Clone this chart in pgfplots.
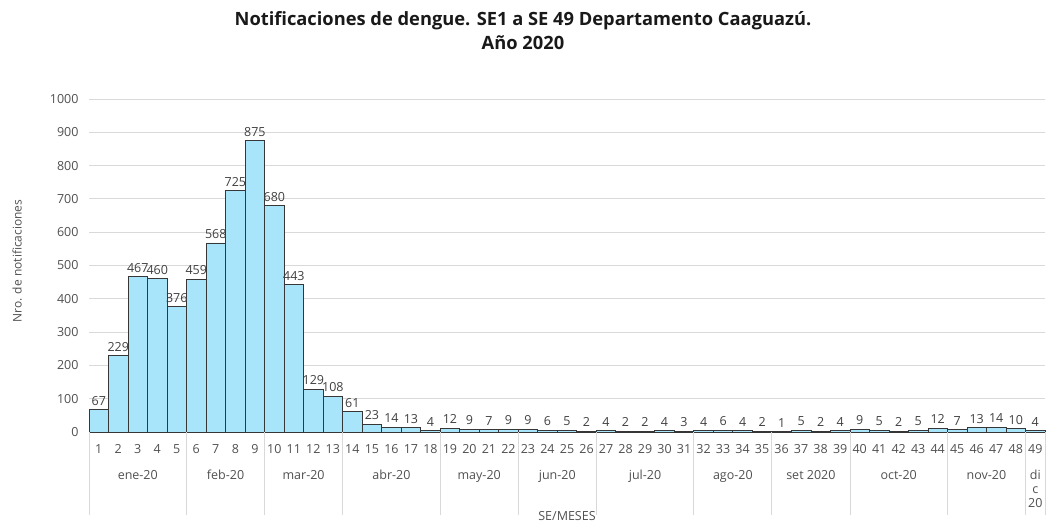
\documentclass[border=0pt]{standalone}
\usepackage{fontspec}
\setmainfont{Open Sans}
\usepackage{pgfplots}
\pgfplotsset{compat=1.18}
\definecolor{barfill}{RGB}{168,228,250}
\definecolor{baredge}{RGB}{55,55,55}
\definecolor{gridc}{RGB}{217,217,217}
\definecolor{txt}{RGB}{64,64,64}
\definecolor{tickc}{RGB}{80,80,80}
\begin{document}
\begin{tikzpicture}[x=1pt,y=1pt]
\useasboundingbox (0,0) rectangle (1046,522);
\begin{axis}[
  at={(89pt,90pt)}, anchor=south west,
  scale only axis, width=956pt, height=333pt,
  xmin=0.5, xmax=49.5, ymin=0, ymax=1000,
  ybar, bar width=1,
  axis line style={draw=none},
  ytick={0,100,...,1000}, ymajorgrids,
  grid style={gridc, line width=0.8pt},
  xtick={1,...,49}, major tick length=0,
  tick label style={font=\fontsize{12.5}{14}\selectfont, text=tickc},
  /pgf/number format/assume math mode=true,
  /pgf/number format/1000 sep={},
  nodes near coords,
  every node near coord/.append style={font=\fontsize{12.5}{15}\selectfont, text=txt, inner sep=0pt, yshift=4pt},
  xticklabel style={yshift=-9pt},
  yticklabel style={xshift=-7pt},
  clip=false,
]
\addplot[fill=barfill, draw=baredge, line width=0.7pt] coordinates {
(1,67) (2,229) (3,467) (4,460) (5,376) (6,459) (7,568) (8,725) (9,875) (10,680)
(11,443) (12,129) (13,108) (14,61) (15,23) (16,14) (17,13) (18,4) (19,12) (20,9)
(21,7) (22,9) (23,9) (24,6) (25,5) (26,2) (27,4) (28,2) (29,2) (30,4)
(31,3) (32,4) (33,6) (34,4) (35,2) (36,1) (37,5) (38,2) (39,4) (40,9)
(41,5) (42,2) (43,5) (44,12) (45,7) (46,13) (47,14) (48,10) (49,4)
};
\tikzset{month/.style={anchor=north, yshift=-38pt, font=\fontsize{12.5}{14}\selectfont, text=tickc, align=center, inner sep=0pt},
  sep/.style={draw=gridc, line width=0.8pt}}
\draw[sep] (axis cs:0.5,0) -- ++(0pt,-83pt);
\draw[sep] (axis cs:5.5,0) -- ++(0pt,-83pt);
\draw[sep] (axis cs:9.5,0) -- ++(0pt,-83pt);
\draw[sep] (axis cs:13.5,0) -- ++(0pt,-83pt);
\draw[sep] (axis cs:18.5,0) -- ++(0pt,-83pt);
\draw[sep] (axis cs:22.5,0) -- ++(0pt,-83pt);
\draw[sep] (axis cs:26.5,0) -- ++(0pt,-83pt);
\draw[sep] (axis cs:31.5,0) -- ++(0pt,-83pt);
\draw[sep] (axis cs:35.5,0) -- ++(0pt,-83pt);
\draw[sep] (axis cs:39.5,0) -- ++(0pt,-83pt);
\draw[sep] (axis cs:44.5,0) -- ++(0pt,-83pt);
\draw[sep] (axis cs:48.5,0) -- ++(0pt,-83pt);
\draw[sep] (axis cs:49.5,0) -- ++(0pt,-83pt);
\node[month] at (axis cs:3,0) {ene-20};
\node[month] at (axis cs:7.5,0) {feb-20};
\node[month] at (axis cs:11.5,0) {mar-20};
\node[month] at (axis cs:16,0) {abr-20};
\node[month] at (axis cs:20.5,0) {may-20};
\node[month] at (axis cs:24.5,0) {jun-20};
\node[month] at (axis cs:29,0) {jul-20};
\node[month] at (axis cs:33.5,0) {ago-20};
\node[month] at (axis cs:37.5,0) {set 2020};
\node[month] at (axis cs:42,0) {oct-20};
\node[month] at (axis cs:46.5,0) {nov-20};
\node[month] at (axis cs:49,0) {di\\c\\20};
\end{axis}
\node[font=\bfseries\fontsize{18.3}{24}\selectfont, align=center, text=black!90] at (523,491) {Notificaciones de dengue. SE1 a SE 49 Departamento Caaguazú.\\Año 2020};
\node[rotate=90, font=\fontsize{12}{14}\selectfont, text=tickc] at (17,261) {Nro. de notificaciones};
\node[font=\fontsize{12.5}{14}\selectfont, text=tickc] at (567,6) {SE/MESES};
\end{tikzpicture}
\end{document}
